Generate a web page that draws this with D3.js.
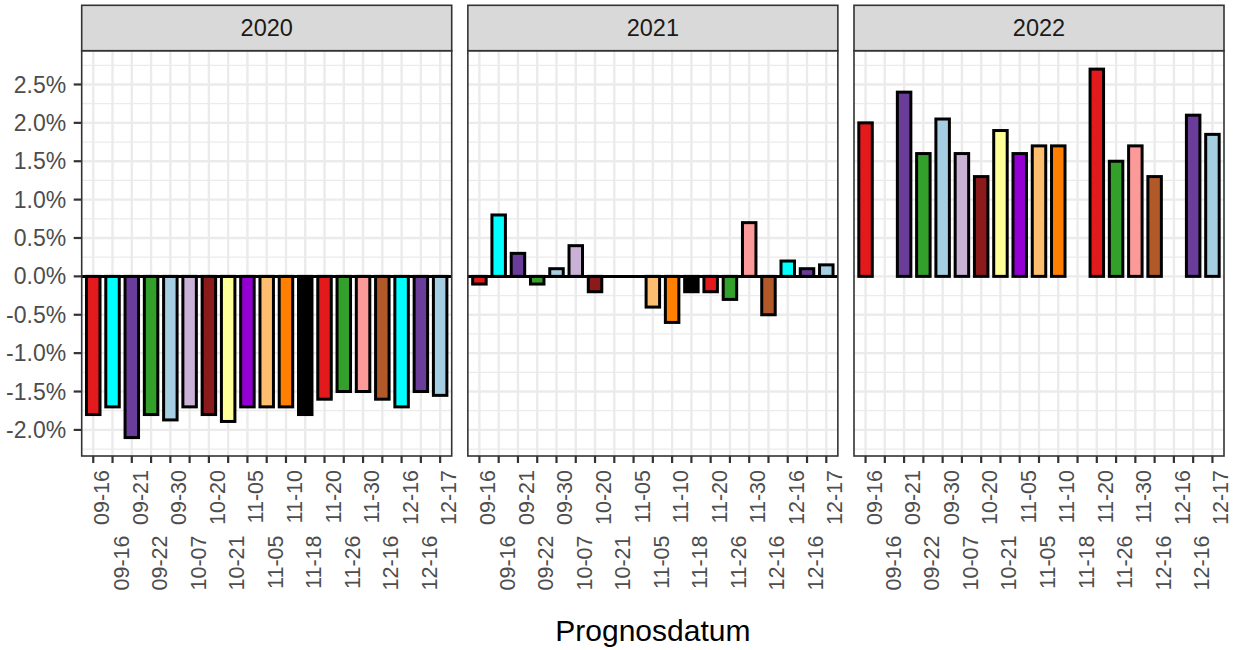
<!DOCTYPE html>
<html>
<head>
<meta charset="utf-8">
<script src="https://cdn.jsdelivr.net/npm/d3@7"></script>
<style>
  html, body { margin: 0; padding: 0; background: #fff; }
  svg { display: block; font-family: "Liberation Sans", Arial, Helvetica, sans-serif; }
</style>
</head>
<body>
<svg id="chart" width="1237" height="650"></svg>
<script>
// ---- data ----
const years = ["2020", "2021", "2022"];
const categories = ["09-16","09-16","09-21","09-22","09-30","10-07","10-20","10-21","11-05","11-05",
                    "11-10","11-18","11-20","11-26","11-30","12-16","12-16","12-16","12-17"];
const values2020 = [-1.8,-1.7,-2.1,-1.8,-1.87,-1.7,-1.8,-1.89,-1.7,-1.7,-1.7,-1.8,-1.6,-1.5,-1.5,-1.6,-1.7,-1.5,-1.55];
const values2021 = [-0.1,0.8,0.3,-0.1,0.1,0.4,-0.2,0,0,-0.4,-0.6,-0.2,-0.2,-0.3,0.7,-0.5,0.2,0.1,0.15];
const values2022 = [2.0,null,2.4,1.6,2.05,1.6,1.3,1.9,1.6,1.7,1.7,null,2.7,1.5,1.7,1.3,null,2.1,1.85];
const barColors = ["#E31A1C","#00FFFF","#6A3D9A","#33A02C","#A6CEE3","#CAB2D6","#8B1A1A","#FFFF99","#9400D3","#FDBF6F",
                   "#FF7F00","#000000","#E31A1C","#33A02C","#FB9A99","#B15928","#00FFFF","#6A3D9A","#A6CEE3"];
const yTicks = [-2.0,-1.5,-1.0,-0.5,0.0,0.5,1.0,1.5,2.0,2.5];
const yMinor = [-2.25,-1.75,-1.25,-0.75,-0.25,0.25,0.75,1.25,1.75,2.25,2.75];
const zeroLineYears = ["2020", "2021"];
const xTitle = "Prognosdatum";

const seriesByYear = { "2020": values2020, "2021": values2021, "2022": values2022 };

// ---- layout ----
const svg = d3.select("#chart");
const pLeft = 81.7, pRight = 1224, pTop = 50.7, pBottom = 456, stripTop = 5.3;

const facet = d3.scaleBand().domain(years).range([pLeft, pRight]).paddingInner(0.0418).paddingOuter(0);
const W = facet.bandwidth();
const x = d3.scalePoint().domain(d3.range(categories.length)).range([0, W]).padding(0.6);
const step = x.step();
const barW = step * 0.7;

const yData = [...values2020, ...values2021, ...values2022].filter(v => v !== null);
const yMin = d3.min(yData), yMax = d3.max(yData);
const yPad = (yMax - yMin) * 0.05;
const y = d3.scaleLinear().domain([yMin - yPad, yMax + yPad]).range([pBottom, pTop]);

const fmt = v => v.toFixed(1) + "%";

years.forEach(yr => {
  const g = svg.append("g").attr("transform", `translate(${facet(yr)},0)`);
  g.append("rect").attr("x", 0).attr("y", pTop).attr("width", W).attr("height", pBottom - pTop).attr("fill", "#fff");
  g.selectAll(".ymin").data(yMinor).enter().append("line")
    .attr("x1", 0).attr("x2", W).attr("y1", d => y(d)).attr("y2", d => y(d))
    .attr("stroke", "#EBEBEB").attr("stroke-width", 1.3);
  g.selectAll(".ymaj").data(yTicks).enter().append("line")
    .attr("x1", 0).attr("x2", W).attr("y1", d => y(d)).attr("y2", d => y(d))
    .attr("stroke", "#EBEBEB").attr("stroke-width", 2.4);
  g.selectAll(".xmaj").data(d3.range(categories.length)).enter().append("line")
    .attr("x1", d => x(d)).attr("x2", d => x(d)).attr("y1", pTop).attr("y2", pBottom)
    .attr("stroke", "#EBEBEB").attr("stroke-width", 2.4);
  const vals = seriesByYear[yr];
  g.selectAll(".bar").data(vals.map((v, i) => ({ v, i })).filter(d => d.v !== null)).enter().append("rect")
    .attr("x", d => x(d.i) - barW / 2)
    .attr("width", barW)
    .attr("y", d => y(Math.max(0, d.v)))
    .attr("height", d => Math.abs(y(d.v) - y(0)))
    .attr("fill", d => barColors[d.i])
    .attr("stroke", "#000").attr("stroke-width", 3);
  if (zeroLineYears.includes(yr)) {
    g.append("line").attr("x1", 0).attr("x2", W).attr("y1", y(0)).attr("y2", y(0))
      .attr("stroke", "#000").attr("stroke-width", 3);
  }
  g.append("rect").attr("x", 0).attr("y", pTop).attr("width", W).attr("height", pBottom - pTop)
    .attr("fill", "none").attr("stroke", "#333333").attr("stroke-width", 1.6);
  g.append("rect").attr("x", 0).attr("y", stripTop).attr("width", W).attr("height", pTop - stripTop)
    .attr("fill", "#D9D9D9").attr("stroke", "#333333").attr("stroke-width", 1.6);
  g.append("text").attr("x", W / 2).attr("y", (stripTop + pTop) / 2).attr("dy", "0.35em")
    .attr("text-anchor", "middle").attr("font-size", 23.5).attr("fill", "#1A1A1A").text(yr);
  g.selectAll(".xt").data(d3.range(categories.length)).enter().append("line")
    .attr("x1", d => x(d)).attr("x2", d => x(d)).attr("y1", pBottom).attr("y2", pBottom + 7)
    .attr("stroke", "#333333").attr("stroke-width", 2.2);
  g.selectAll(".xl").data(d3.range(categories.length)).enter().append("text")
    .attr("transform", d => `translate(${x(d)},${d % 2 === 0 ? 470 : 535.5}) rotate(-90)`)
    .attr("y", 16)
    .attr("text-anchor", "end").attr("font-size", 21.5).attr("fill", "#4D4D4D")
    .text(d => categories[d]);
});

const ya = svg.append("g");
ya.selectAll(".yt").data(yTicks).enter().append("line")
  .attr("x1", pLeft - 8).attr("x2", pLeft).attr("y1", d => y(d)).attr("y2", d => y(d))
  .attr("stroke", "#333333").attr("stroke-width", 2.2);
ya.selectAll(".yl").data(yTicks).enter().append("text")
  .attr("x", pLeft - 15.5).attr("y", d => y(d)).attr("dy", "0.35em")
  .attr("text-anchor", "end").attr("font-size", 23).attr("fill", "#4D4D4D")
  .text(fmt);

svg.append("text").attr("x", (pLeft + pRight) / 2).attr("y", 641)
  .attr("text-anchor", "middle").attr("font-size", 30).attr("fill", "#000").text(xTitle);
</script>
</body>
</html>
